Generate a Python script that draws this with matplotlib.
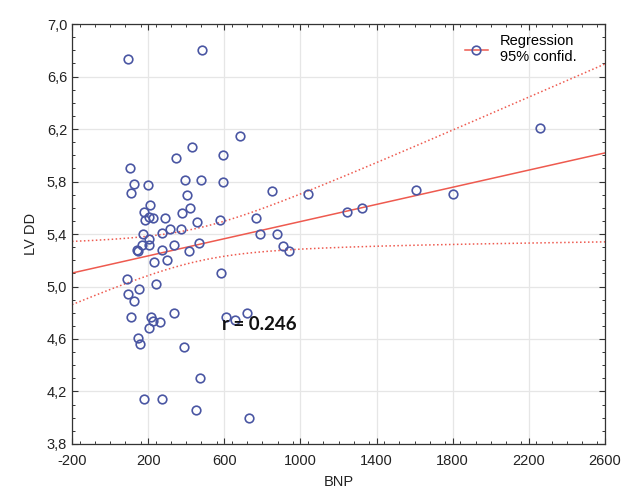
import numpy as np
import matplotlib
matplotlib.use('Agg')
import matplotlib.pyplot as plt
from matplotlib.lines import Line2D
from matplotlib.ticker import MultipleLocator, FuncFormatter

# values (BNP vs LV DD)
bnp = [95, 485, 685, 430, 345, 595, 105, 125, 200, 110,
       393, 477, 595, 850, 405, 212, 421, 180, 379, 186,
       205, 225, 291, 456, 575, 767, 172, 272, 316, 372,
       202, 167, 207, 141, 149, 337, 275, 417, 468, 233,
       298, 88, 240, 93, 153, 125, 112, 216, 223, 263,
       204, 337, 147, 158, 583, 611, 654, 719, 386, 474,
       179, 275, 451, 728, 789, 877, 907, 938, 1040, 1246,
       1325, 1605, 1804, 2258]
lvdd = [6.73, 6.80, 6.15, 6.06, 5.98, 6.00, 5.90, 5.78, 5.77, 5.71,
        5.81, 5.81, 5.80, 5.73, 5.70, 5.62, 5.60, 5.57, 5.56, 5.51,
        5.53, 5.52, 5.52, 5.49, 5.51, 5.52, 5.40, 5.41, 5.44, 5.44,
        5.36, 5.32, 5.32, 5.28, 5.27, 5.32, 5.28, 5.27, 5.33, 5.19,
        5.20, 5.06, 5.02, 4.94, 4.98, 4.89, 4.77, 4.77, 4.74, 4.73,
        4.68, 4.80, 4.61, 4.56, 5.10, 4.77, 4.745, 4.80, 4.54, 4.30,
        4.14, 4.14, 4.06, 4.00, 5.40, 5.40, 5.31, 5.27, 5.705, 5.565,
        5.60, 5.735, 5.705, 6.205]
r_text = 'r = 0.246'
x_ticks = list(range(-200, 2601, 400))
y_ticks = [3.8, 4.2, 4.6, 5.0, 5.4, 5.8, 6.2, 6.6, 7.0]

x = np.array(bnp, dtype=float)
y = np.array(lvdd)

# linear regression + 95% confidence band of the mean
slope, icpt = np.polyfit(x, y, 1)
n = len(x)
resid = y - (slope * x + icpt)
s = np.sqrt(np.sum(resid ** 2) / (n - 2))
sxx = np.sum((x - x.mean()) ** 2)
t_val = 1.993
xs = np.linspace(-200, 2600, 200)
ys = slope * xs + icpt
band = t_val * s * np.sqrt(1 / n + (xs - x.mean()) ** 2 / sxx)

plt.rcParams['font.family'] = ['Liberation Sans', 'DejaVu Sans']
plt.rcParams['axes.unicode_minus'] = False
fig = plt.figure(figsize=(6.25, 4.93), dpi=100)
ax = fig.add_axes([0.1152, 0.0994, 0.8528, 0.8519])

red = '#ee5a4f'
blue = '#4a56a3'
ax.plot(xs, ys, color=red, lw=1.1, zorder=2)
ax.plot(xs, ys + band, color=red, lw=1.1, ls=(0, (1, 1.6)), zorder=2)
ax.plot(xs, ys - band, color=red, lw=1.1, ls=(0, (1, 1.6)), zorder=2)
ax.plot(x, y, 'o', mfc='none', mec=blue, mew=1.2, ms=6.2, zorder=3)

ax.text(590, 4.71, r_text, fontsize=13.5, fontweight='bold', family=['Lato', 'DejaVu Sans'],
        va='center', ha='left', color='#111111', zorder=4)

ax.set_xlim(-200, 2600)
ax.set_ylim(3.8, 7.0)
ax.set_xticks(x_ticks)
ax.set_yticks(y_ticks)
ax.xaxis.set_minor_locator(MultipleLocator(80))
ax.yaxis.set_minor_locator(MultipleLocator(0.1))
ax.yaxis.set_major_formatter(FuncFormatter(lambda v, p: f'{v:.1f}'.replace('.', ',')))
ax.tick_params(which='both', direction='in', top=True, right=True, labelsize=10.5,
               labelcolor='#222222', color='#333333')
ax.tick_params(which='major', length=4, width=0.8)
ax.tick_params(which='minor', length=2.5, width=0.7)
ax.tick_params(axis='x', which='major', pad=7)
ax.grid(True, which='major', color='#e6e6e6', lw=0.9, zorder=0)
ax.set_axisbelow(True)
for sp in ax.spines.values():
    sp.set_color('#333333')
    sp.set_linewidth(0.9)

ax.set_xlabel('BNP', fontsize=10.5, color='#222222', labelpad=5)
ax.set_ylabel('LV DD', fontsize=10.5, color='#222222', labelpad=6)

handle = Line2D([], [], color=red, lw=1.1, marker='o', mfc='none', mec=blue, mew=1.2, ms=6.2)
ax.legend([handle], ['Regression\n95% confid.'], loc='upper right', frameon=False,
          fontsize=10.5, handlelength=1.6, numpoints=1, borderaxespad=0.3,
          bbox_to_anchor=(0.965, 1.0))

fig.savefig('out.png', dpi=100)
